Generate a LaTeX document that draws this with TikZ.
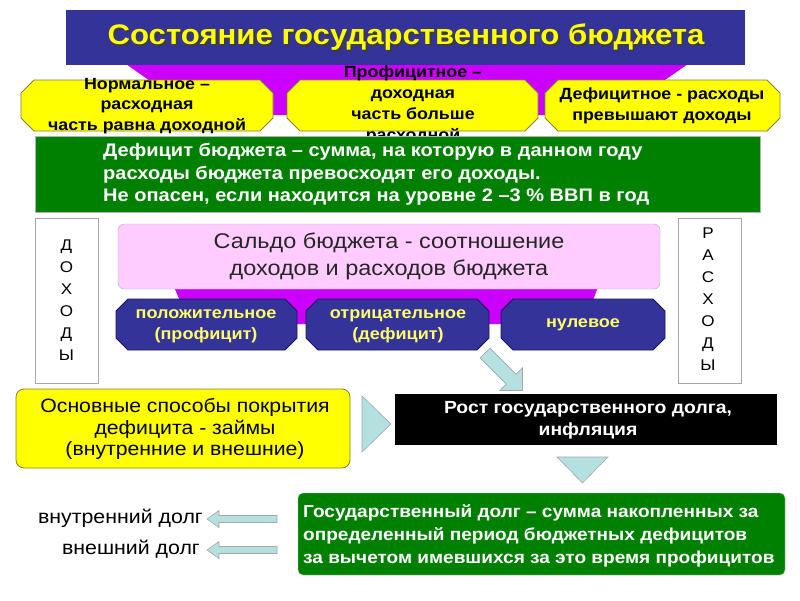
\documentclass[tikz,border=0pt]{standalone}
\usepackage{fontspec}
\setmainfont{Liberation Sans}[FakeStretch=1.1]
\usetikzlibrary{arrows.meta}
\definecolor{titleblue}{RGB}{51,51,153}
\definecolor{magentaf}{RGB}{204,0,255}
\definecolor{yelf}{RGB}{255,255,0}
\definecolor{dgreen}{RGB}{0,128,0}
\definecolor{pinkf}{RGB}{255,204,255}
\definecolor{navyf}{RGB}{51,51,153}
\definecolor{navyd}{RGB}{25,25,90}
\definecolor{tealf}{RGB}{180,224,224}
\definecolor{octtext}{RGB}{255,255,102}
\definecolor{olivedraw}{RGB}{130,130,60}
\definecolor{shadowc}{RGB}{60,60,60}
\newcommand\myfs[2]{\fontsize{#1}{#2}\selectfont}
\newcommand\octpath[6]{\draw[#1] (#2+#6,#3) -- (#4-#6,#3) -- (#4,#3+#6) -- (#4,#5-#6) -- (#4-#6,#5) -- (#2+#6,#5) -- (#2,#5-#6) -- (#2,#3+#6) -- cycle;}
\newcommand\titlestr{Состояние государственного бюджета}
\begin{document}
\begin{tikzpicture}[x=1pt,y=-1pt,
  yoct/.style={fill=yelf,draw=olivedraw,line width=0.8pt},
  boct/.style={fill=navyf,draw=navyd,line width=0.8pt},
  octtxt/.style={align=center,font=\bfseries\myfs{16.2}{20.5},text=black,inner sep=0pt},
  btxt/.style={align=center,font=\bfseries\myfs{16.4}{21},text=octtext,inner sep=0pt},
  lettxt/.style={align=center,font=\myfs{15.5}{22},inner sep=0pt},
  tealarr/.style={fill=tealf,draw=gray!70,line width=0.6pt},
  sidebox/.style={draw=gray!70,fill=white,line width=0.8pt,minimum width=63pt,minimum height=165pt,inner sep=0pt}]
\useasboundingbox (0,0) rectangle (800,600);
\fill[white] (0,0) rectangle (800,600);
% title
\fill[magentaf] (126,64) -- (688,64) -- (615,115) -- (198,115) -- cycle;
\node[fill=titleblue,minimum width=679pt,minimum height=55pt,inner sep=0pt] (titlebox) at (405.5,37.5) {};
\node[font=\bfseries\myfs{28.3}{34},inner sep=0pt] (titletext) at (406,38) {\rlap{\kern1.8pt\raisebox{-1.8pt}{\textcolor{shadowc}{\titlestr}}}\textcolor{yelf}{\titlestr}};
% yellow octagons
\octpath{yoct}{21}{80}{273}{131}{13}
\octpath{yoct}{287}{80}{538}{131}{13}
\octpath{yoct}{545}{80}{780}{131}{13}
\node[octtxt] (normal) at (147,106) {Нормальное –\\расходная\\часть равна доходной};
\node[octtxt,font=\bfseries\myfs{16.2}{21}] (profit) at (413,105) {Профицитное –\\доходная\\часть больше\\расходной};
\node[octtxt,font=\bfseries\myfs{16.2}{21.5}] (deficit) at (662,106) {Дефицитное - расходы\\превышают доходы};
% green definition
\node[fill=dgreen,draw=gray!60,minimum width=725pt,minimum height=76pt,inner sep=0pt] (defbox) at (397.5,174) {};
\node[anchor=west,align=left,text=white,font=\bfseries\myfs{18.2}{22.5},inner sep=0pt] (deftext) at (103,174.5) {Дефицит бюджета – сумма, на которую в данном году\\расходы бюджета превосходят его доходы.\\Не опасен, если находится на уровне 2 –3 \% ВВП в год};
% side boxes
\node[sidebox] (incbox) at (66.5,300.5) {};
\node[lettxt] (inctext) at (66.5,300) {Д\\О\\Х\\О\\Д\\Ы};
\node[sidebox] (expbox) at (710,300.5) {};
\node[lettxt] (exptext) at (708,299) {Р\\А\\С\\Х\\О\\Д\\Ы};
% saldo
\fill[magentaf] (174,287) -- (598,287) -- (584,324) -- (190,324) -- cycle;
\node[fill=pinkf,draw=gray!60,minimum width=542pt,minimum height=65pt,inner sep=0pt,rounded corners=6pt] (saldobox) at (389,256.5) {};
\node[align=center,font=\myfs{21.3}{27},text=black!85,inner sep=0pt] (saldotext) at (389,256) {Сальдо бюджета - соотношение\\доходов и расходов бюджета};
\octpath{boct}{116}{299}{297}{350}{12}
\octpath{boct}{306}{299}{489}{350}{12}
\octpath{boct}{501}{299}{665}{350}{12}
\node[btxt] (pos) at (206,326) {положительное\\(профицит)};
\node[btxt] (neg) at (398,326) {отрицательное\\(дефицит)};
\node[btxt] (zero) at (583,325) {нулевое};
% diagonal arrow
\coordinate (dtail) at (485,353);
\draw[tealarr,shift={(dtail)},rotate=-45] (0,-7) -- (37,-7) -- (37,-16) -- (53,0) -- (37,16) -- (37,7) -- (0,7) -- cycle;
% covering box
\node[fill=yelf,draw=olivedraw,line width=0.8pt,rounded corners=8pt,minimum width=334pt,minimum height=79pt,inner sep=0pt] (coverbox) at (183,428.5) {};
\node[align=center,font=\myfs{19.3}{21.8},inner sep=0pt] (covertext) at (185,429) {Основные способы покрытия\\дефицита - займы\\(внутренние и внешние)};
\draw[tealarr] (362,396) -- (391,424) -- (362,452) -- cycle;
\node[fill=black,minimum width=382pt,minimum height=51pt,inner sep=0pt] (growbox) at (586,419.5) {};
\node[align=center,text=white,font=\bfseries\myfs{17.6}{21.7},inner sep=0pt] (growtext) at (588,420) {Рост государственного долга,\\инфляция};
\draw[tealarr] (557,457) -- (608,457) -- (582.5,483) -- cycle;
% debt
\node[fill=dgreen,draw=gray!50,rounded corners=5pt,minimum width=487pt,minimum height=82pt,inner sep=0pt] (debtbox) at (541.5,534) {};
\node[anchor=west,align=left,text=white,font=\bfseries\myfs{17.3}{23},inner sep=0pt] (debttext) at (303,536) {Государственный долг – сумма накопленных за\\определенный период бюджетных дефицитов\\за вычетом имевшихся за это время профицитов};
\node[anchor=east,font=\myfs{19.4}{20},inner sep=0pt] (inner) at (203,518) {внутренний долг};
\node[anchor=east,font=\myfs{19.4}{20},inner sep=0pt] (outer) at (200,549) {внешний долг};
\coordinate (a1) at (277,519);
\coordinate (a2) at (277,550);
\draw[tealarr,shift={(a1)}] (0,-3.5) -- (-58,-3.5) -- (-58,-8.5) -- (-70,0) -- (-58,8.5) -- (-58,3.5) -- (0,3.5) -- cycle;
\draw[tealarr,shift={(a2)}] (0,-3.5) -- (-58,-3.5) -- (-58,-8.5) -- (-70,0) -- (-58,8.5) -- (-58,3.5) -- (0,3.5) -- cycle;
\end{tikzpicture}
\end{document}
